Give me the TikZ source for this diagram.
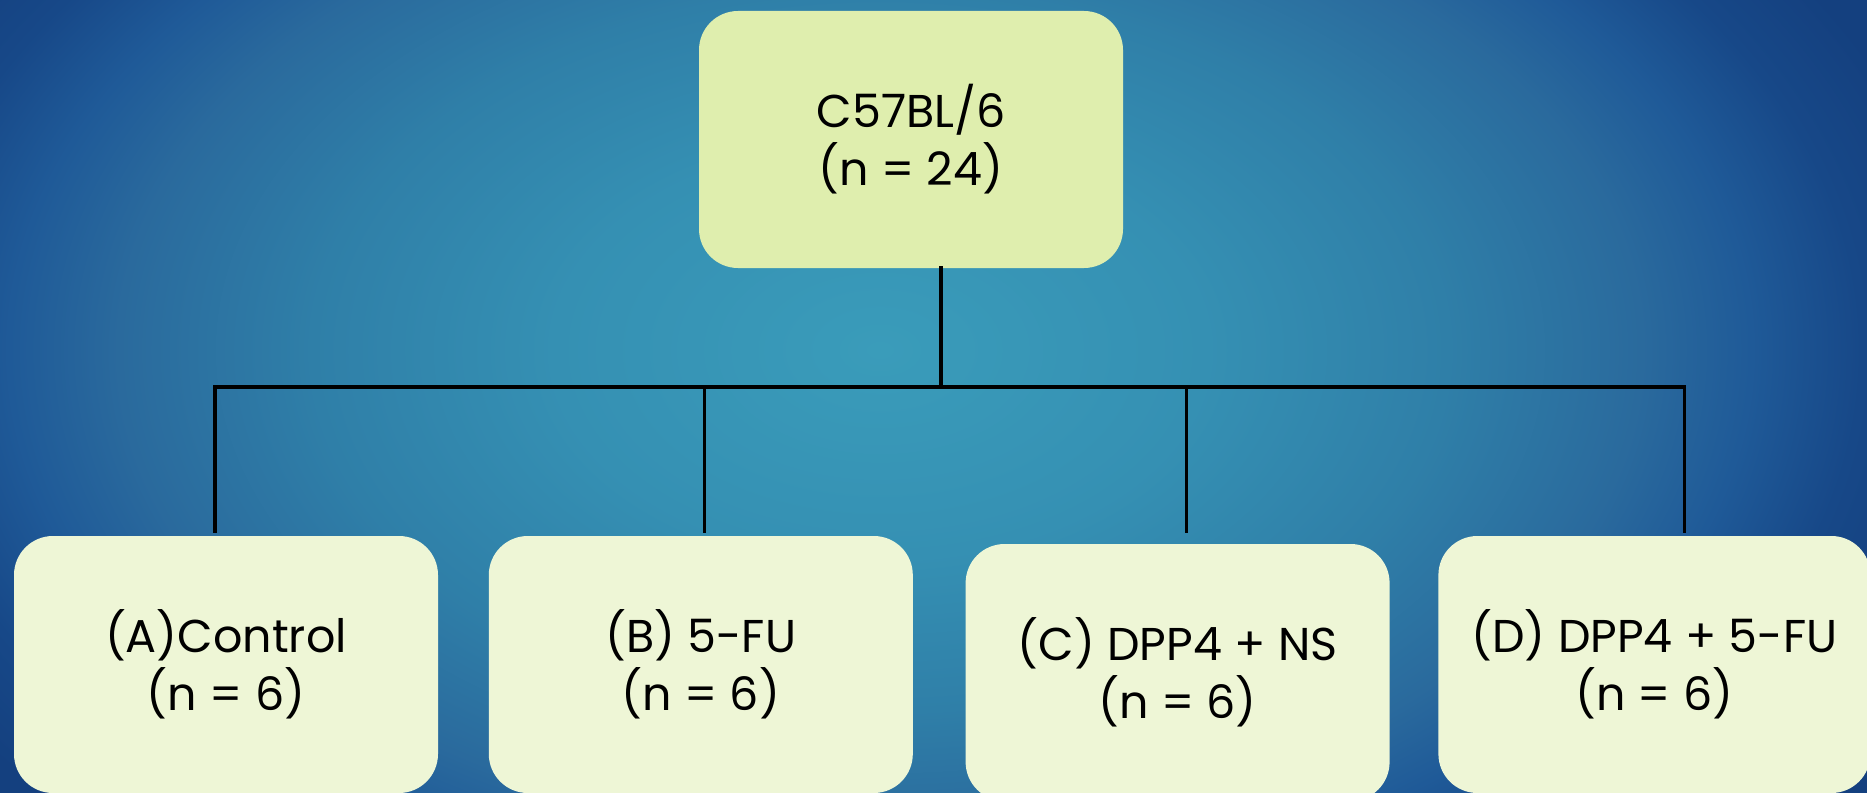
\documentclass[tikz,border=0pt]{standalone}
\usepackage{fontspec}
\setmainfont{Poppins}
\usepackage{xcolor}
\definecolor{StrainFill}{HTML}{DFEEAE}
\definecolor{GroupFill}{HTML}{EEF6D6}
\definecolor{GlowA}{HTML}{3A9CBA}
\definecolor{GlowB}{HTML}{3590B3}
\definecolor{GlowC}{HTML}{2F7FA8}
\definecolor{GlowD}{HTML}{2A6A9D}
\definecolor{GlowE}{HTML}{1F5A98}
\definecolor{GlowF}{HTML}{174888}
\definecolor{GlowG}{HTML}{14407F}
\usepackage{tikz}
\usetikzlibrary{positioning}
\pgfdeclareradialshading{bgglow}{\pgfpoint{0bp}{0bp}}{color(0bp)=(GlowA); color(7.4bp)=(GlowB); color(12.9bp)=(GlowC); color(17.3bp)=(GlowD); color(19.8bp)=(GlowE); color(22.3bp)=(GlowF); color(24.8bp)=(GlowG); color(50bp)=(GlowG)}

\begin{document}
\begin{tikzpicture}[x=0.5pt, y=-0.5pt,
  every node/.style={font=\fontsize{23}{29}\selectfont, align=center},
  groupbox/.style={rounded corners=19.5pt, fill=GroupFill, minimum width=212pt, minimum height=128.5pt, inner sep=0pt},
  link/.style={line width=1.6pt, black}]
  \useasboundingbox (0,0) rectangle (1867,792);
  \begin{scope}
    \clip (0,0) rectangle (1867,792);
    \shade[shading=bgglow] (-220,-350) rectangle (1980,1050);
  \end{scope}

  \node[groupbox, fill=StrainFill] (strain) at (911,139.5) {C57BL/6\\(n = 24)};
  \node[groupbox] (ctrl) at (226,664.5) {(A)Control\\(n = 6)};
  \node[groupbox, right=25pt of ctrl] (fu) {(B) 5-FU\\(n = 6)};
  \node[groupbox, right=26pt of fu, yshift=-4pt] (dpns) {(C) DPP4 + NS\\(n = 6)};
  \node[groupbox, right=24pt of dpns, yshift=4pt, minimum width=216pt] (dpfu) {(D) DPP4 + 5-FU\\(n = 6)};

  \coordinate (hub) at (941,387);
  \draw[link] ([xshift=15pt, yshift=1pt]strain.south) -- (hub);
  \draw[link] (hub) -| ([xshift=-5.5pt, yshift=1.5pt]ctrl.north);
  \draw[link] (hub) -| ([xshift=2pt, yshift=1.5pt]fu.north);
  \draw[link] (hub) -| ([xshift=4.5pt, yshift=5.5pt]dpns.north);
  \draw[link] (hub) -| ([xshift=15pt, yshift=1.5pt]dpfu.north);
\end{tikzpicture}
\end{document}
